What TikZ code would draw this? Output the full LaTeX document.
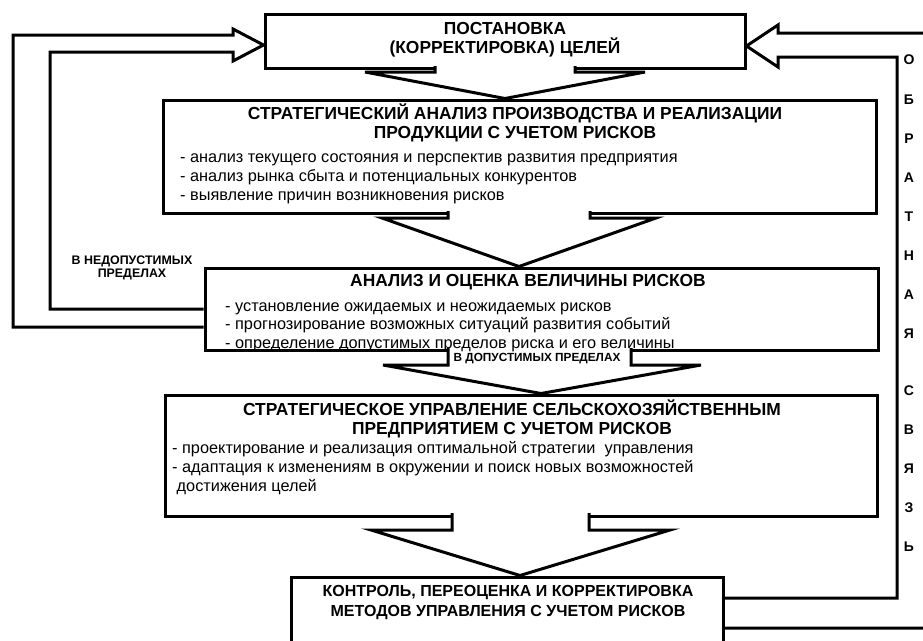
\documentclass[tikz,border=0pt]{standalone}
\usepackage{fontspec}
\setmainfont{Liberation Sans}
\usetikzlibrary{calc}

\begin{document}
\begin{tikzpicture}[x=1pt, y=-1pt,
    box/.style={rectangle, draw=black, line width=3pt, fill=white, inner sep=0pt},
    head/.style={font=\fontsize{17.4}{19}\selectfont\bfseries, align=center, inner sep=0pt},
    items/.style={font=\fontsize{16.3}{18.7}\selectfont, align=left, anchor=west, inner sep=0pt},
    note/.style={font=\fontsize{12.4}{13.5}\selectfont\bfseries, align=center, inner sep=0pt},
    letter/.style={font=\fontsize{14}{14}\selectfont\bfseries, inner sep=0pt},
    flow/.style={draw=black, line width=3pt, fill=white, line join=miter},
    link/.style={draw=black, line width=3pt, line join=miter}
]
    \path[use as bounding box] (0,0) rectangle (923,640);
    \clip (0,0) rectangle (923,640);

    % Boxes
    \node[box, minimum width=480pt, minimum height=54pt] (goal) at (505,41) {};
    \node[box, minimum width=713pt, minimum height=113pt] (strat) at (519.5,156.5) {};
    \node[box, minimum width=673pt, minimum height=82pt] (risk) at (541.5,309) {};
    \node[box, minimum width=712pt, minimum height=121pt] (manage) at (521,455.5) {};
    \node[box, minimum width=432pt, minimum height=93pt] (control) at (507,623.5) {};

    % Block arrows between the boxes
    \draw[flow] (435,66) -- (435,72) -- (365,72) -- (505,0 |- strat.north) -- (645,72) -- (575,72) -- (575,66);
    \draw[flow] (448,211) -- (448,218) -- (382,218) -- (519,0 |- risk.north) -- (656,218) -- (590,218) -- (590,211);
    \draw[flow] (448,348) -- (448,365) -- (383,365) -- (541,0 |- manage.north) -- (701,365) -- (631,365) -- (631,348);
    \draw[flow] (452,513) -- (452,530) -- (371,530) -- (520,0 |- control.north) -- (670,530) -- (589,530) -- (589,513);

    % Feedback, left
    \draw[link] (risk.west |- 0,327) -- (13,327) -- (13,35) -- (233,35) -- (233,29)
        -- (goal.west |- 0,45) -- (233,61) -- (233,52) -- (50,52) -- (50,309) -- (risk.west |- 0,309);
    \node[note] (bad) at (132,268) {В НЕДОПУСТИМЫХ\\ПРЕДЕЛАХ};

    % Feedback, right
    \draw[link] (control.east |- 0,598) -- (897,598) -- (897,57) -- (778,57) -- (778,67)
        -- (goal.east |- 0,46) -- (778,25) -- (778,33) -- (935,33) -- (935,628) -- (control.east |- 0,628);
    \foreach \ch/\yy in {О/60, Б/100, Р/139, А/178, Т/217, Н/256, А/295, Я/334,
                         С/391, В/430, Я/469, З/508, Ь/547}
        \node[letter] (fb\yy) at (909,\yy) {\ch};

    % Texts
    \node[head] (goaltxt) at (505,40) {ПОСТАНОВКА\\(КОРРЕКТИРОВКА) ЦЕЛЕЙ};

    \node[head] (strattxt) at (515,123) {СТРАТЕГИЧЕСКИЙ АНАЛИЗ ПРОИЗВОДСТВА И РЕАЛИЗАЦИИ\\ПРОДУКЦИИ С УЧЕТОМ РИСКОВ};
    \node[items] (stratlist) at (180,179) {- анализ текущего состояния и перспектив развития предприятия\\
        - анализ рынка сбыта и потенциальных конкурентов\\
        - выявление причин возникновения рисков};

    \node[head] (risktxt) at (528,282) {АНАЛИЗ И ОЦЕНКА ВЕЛИЧИНЫ РИСКОВ};
    \node[items] (risklist) at (225,327) {- установление ожидаемых и неожидаемых рисков\\
        - прогнозирование возможных ситуаций развития событий\\
        - определение допустимых пределов риска и его величины};
    \node[note, font=\fontsize{11.8}{13}\selectfont\bfseries] (good) at (537,359) {В ДОПУСТИМЫХ ПРЕДЕЛАХ};

    \node[head] (managetxt) at (512,419) {СТРАТЕГИЧЕСКОЕ УПРАВЛЕНИЕ СЕЛЬСКОХОЗЯЙСТВЕННЫМ\\ПРЕДПРИЯТИЕМ С УЧЕТОМ РИСКОВ};
    \node[items] (managelist) at (172,468) {- проектирование и реализация оптимальной стратегии\ \ управления\\
        - адаптация к изменениям в окружении и поиск новых возможностей\\
        \ достижения целей};

    \node[head, font=\fontsize{16}{20}\selectfont\bfseries] (controltxt) at (508,602) {КОНТРОЛЬ, ПЕРЕОЦЕНКА И КОРРЕКТИРОВКА\\МЕТОДОВ УПРАВЛЕНИЯ С УЧЕТОМ РИСКОВ};
\end{tikzpicture}
\end{document}
